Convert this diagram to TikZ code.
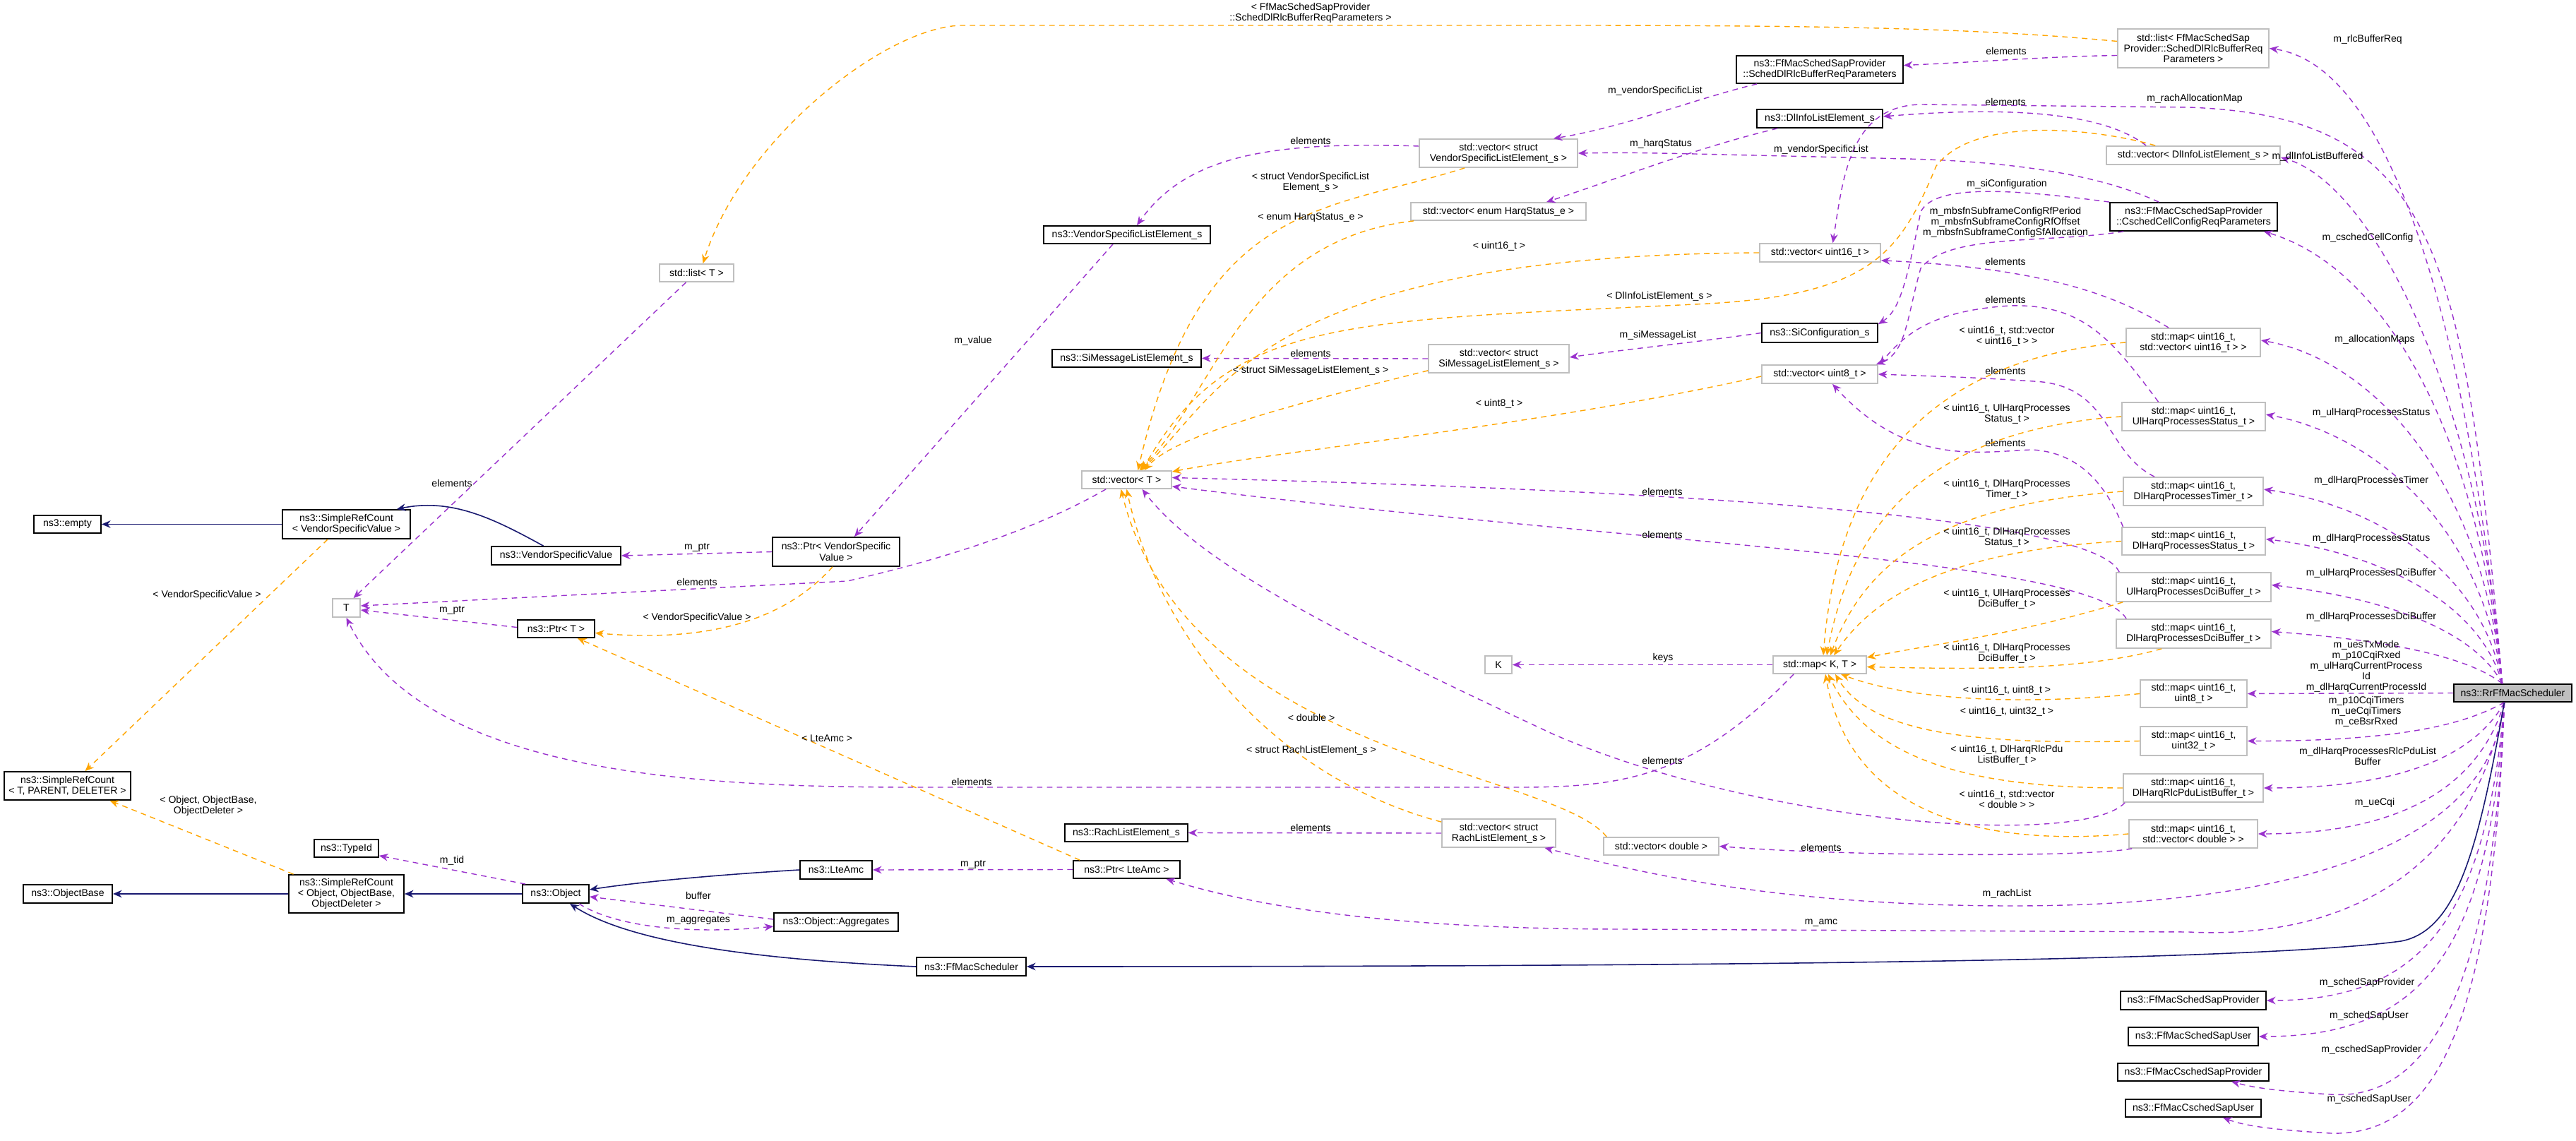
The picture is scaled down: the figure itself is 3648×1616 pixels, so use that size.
\documentclass[tikz,border=0pt]{standalone}
\usepackage{fontspec}
\setmainfont{Liberation Sans}
\usetikzlibrary{arrows.meta,calc}
\definecolor{pur}{RGB}{154,50,205}
\definecolor{org}{RGB}{255,165,0}
\definecolor{nav}{RGB}{25,25,112}
\definecolor{gbord}{RGB}{191,191,191}
\newcommand{\nb}[7]{\node[#1,minimum width={(#5-#3)*0.01cm},minimum height={(#6-#4)*0.01cm}] (#2) at ({(#3+#5)/2},{(#4+#6)/2}) {#7};}
\newcommand{\lb}[4]{\node[lbl] (#1) at (#2,#3) {#4};}
\begin{document}
\begin{tikzpicture}[x=0.01cm,y=-0.01cm,
  every node/.style={font=\fontsize{4}{4.3}\selectfont,inner sep=0pt,align=center},
  bx/.style={draw=black,line width=0.5pt,fill=white},
  gb/.style={draw=gbord,line width=0.5pt,fill=white},
  rb/.style={draw=black,line width=0.5pt,fill=gbord},
  lbl/.style={},
  tip/.style={-{Stealth[length=3.6pt,width=3pt]}},
  pe/.style={tip,draw=pur,line width=0.4pt,dash pattern=on 2.2pt off 1.8pt},
  oe/.style={tip,draw=org,line width=0.4pt,dash pattern=on 2.2pt off 1.8pt},
  ne/.style={tip,draw=nav,line width=0.45pt}]
\useasboundingbox (0,0) rectangle (3648,1616);
% nodes
\nb{bx}{empty}{48}{730}{143}{755}{ns3::empty}
\nb{bx}{srcv}{400}{722}{581}{763}{ns3::SimpleRefCount\\< VendorSpecificValue >}
\nb{gb}{listT}{934}{374}{1039}{399}{std::list< T >}
\nb{bx}{vsv}{696}{774}{879}{800}{ns3::VendorSpecificValue}
\nb{bx}{pvsv}{1094}{761}{1274}{802}{ns3::Ptr< VendorSpecific\\Value >}
\nb{gb}{T}{471}{848}{510}{874}{T}
\nb{bx}{pT}{733}{878}{842}{903}{ns3::Ptr< T >}
\nb{bx}{srct}{6}{1093}{185}{1133}{ns3::SimpleRefCount\\< T, PARENT, DELETER >}
\nb{bx}{tid}{445}{1189}{536}{1214}{ns3::TypeId}
\nb{bx}{ob}{33}{1253}{159}{1279}{ns3::ObjectBase}
\nb{bx}{srco}{409}{1239}{572}{1293}{ns3::SimpleRefCount\\< Object, ObjectBase,\\ObjectDeleter >}
\nb{bx}{obj}{740}{1253}{834}{1279}{ns3::Object}
\nb{bx}{amc}{1133}{1219}{1235}{1245}{ns3::LteAmc}
\nb{bx}{agg}{1096}{1293}{1272}{1319}{ns3::Object::Aggregates}
\nb{gb}{vvs}{2010}{197}{2234}{237}{std::vector< struct\\ VendorSpecificListElement\_s >}
\nb{bx}{vsle}{1478}{320}{1714}{345}{ns3::VendorSpecificListElement\_s}
\nb{gb}{vhs}{1998}{287}{2246}{312}{std::vector< enum HarqStatus\_e >}
\nb{bx}{smle}{1490}{495}{1701}{520}{ns3::SiMessageListElement\_s}
\nb{gb}{vsm}{2023}{488}{2222}{528}{std::vector< struct\\ SiMessageListElement\_s >}
\nb{gb}{vT}{1532}{667}{1659}{692}{std::vector< T >}
\nb{gb}{K}{2103}{929}{2141}{954}{K}
\nb{bx}{rle}{1508}{1167}{1682}{1192}{ns3::RachListElement\_s}
\nb{gb}{vrl}{2042}{1160}{2203}{1200}{std::vector< struct\\ RachListElement\_s >}
\nb{gb}{vd}{2271}{1186}{2434}{1211}{std::vector< double >}
\nb{bx}{pamc}{1520}{1219}{1671}{1244}{ns3::Ptr< LteAmc >}
\nb{bx}{ffs}{1298}{1356}{1453}{1382}{ns3::FfMacScheduler}
\nb{gb}{listP}{2999}{41}{3213}{96}{std::list< FfMacSchedSap\\Provider::SchedDlRlcBufferReq\\Parameters >}
\nb{bx}{schedP}{2459}{79}{2695}{118}{ns3::FfMacSchedSapProvider\\::SchedDlRlcBufferReqParameters}
\nb{bx}{dlinfo}{2488}{155}{2666}{181}{ns3::DlInfoListElement\_s}
\nb{gb}{vdl}{2983}{207}{3229}{233}{std::vector< DlInfoListElement\_s >}
\nb{bx}{csched}{2988}{287}{3225}{327}{ns3::FfMacCschedSapProvider\\::CschedCellConfigReqParameters}
\nb{gb}{vu16}{2492}{345}{2663}{371}{std::vector< uint16\_t >}
\nb{bx}{siconf}{2495}{458}{2659}{485}{ns3::SiConfiguration\_s}
\nb{gb}{vu8}{2495}{517}{2659}{543}{std::vector< uint8\_t >}
\nb{gb}{mvu16}{3011}{465}{3201}{505}{std::map< uint16\_t,\\ std::vector< uint16\_t > >}
\nb{gb}{mus}{3005}{570}{3208}{610}{std::map< uint16\_t,\\ UlHarqProcessesStatus\_t >}
\nb{gb}{mdt}{3007}{676}{3205}{716}{std::map< uint16\_t,\\ DlHarqProcessesTimer\_t >}
\nb{gb}{mds}{3005}{747}{3208}{786}{std::map< uint16\_t,\\ DlHarqProcessesStatus\_t >}
\nb{gb}{mud}{2997}{811}{3216}{852}{std::map< uint16\_t,\\ UlHarqProcessesDciBuffer\_t >}
\nb{gb}{mdd}{2997}{877}{3216}{918}{std::map< uint16\_t,\\ DlHarqProcessesDciBuffer\_t >}
\nb{gb}{mkt}{2511}{929}{2643}{954}{std::map< K, T >}
\nb{gb}{mu8}{3031}{963}{3182}{1002}{std::map< uint16\_t,\\ uint8\_t >}
\nb{gb}{mu32}{3031}{1029}{3182}{1070}{std::map< uint16\_t,\\ uint32\_t >}
\nb{gb}{mrlc}{3007}{1096}{3205}{1136}{std::map< uint16\_t,\\ DlHarqRlcPduListBuffer\_t >}
\nb{gb}{mvd}{3015}{1161}{3197}{1201}{std::map< uint16\_t,\\ std::vector< double > >}
\nb{rb}{R}{3475}{969}{3642}{994}{ns3::RrFfMacScheduler}
\nb{bx}{ssp}{3003}{1404}{3209}{1430}{ns3::FfMacSchedSapProvider}
\nb{bx}{ssu}{3014}{1455}{3198}{1481}{ns3::FfMacSchedSapUser}
\nb{bx}{csp}{2999}{1506}{3213}{1531}{ns3::FfMacCschedSapProvider}
\nb{bx}{csu}{3010}{1557}{3202}{1582}{ns3::FfMacCschedSapUser}
\coordinate (Rn) at ($(R.north)+(-15,0)$);
\coordinate (Rs) at ($(R.south)+(-12,0)$);
% ---- edges from R, upper
\draw[pe] (Rn) .. controls (3500,{68+0.5*(969-68)}) and (3400,95) .. (listP.east);
\draw[pe] (Rn) .. controls (3510,{220+0.45*(969-220)}) and (3360,260) .. ($(vdl.east)+(0,3)$);
\draw[pe] (Rn) .. controls (3510,{330+0.45*(969-330)}) and (3380,380) .. ($(csched.south east)+(-20,0)$);
\draw[pe] (Rn) .. controls (3515,{485+0.4*(969-485)}) and (3360,510) .. ($(mvu16.east)+(0,-3)$);
\draw[pe] (Rn) .. controls (3515,{590+0.4*(969-590)}) and (3360,615) .. ($(mus.east)+(0,-3)$);
\draw[pe] (Rn) .. controls (3515,{696+0.4*(969-696)}) and (3360,715) .. ($(mdt.east)+(0,-3)$);
\draw[pe] (Rn) .. controls (3510,{766+0.4*(969-766)}) and (3360,782) .. ($(mds.east)+(0,-3)$);
\draw[pe] (Rn) .. controls (3500,{831+0.4*(969-831)}) and (3360,845) .. ($(mud.east)+(0,-3)$);
\draw[pe] (Rn) .. controls (3490,{897+0.4*(969-897)}) and (3360,905) .. ($(mdd.east)+(0,-3)$);
\draw[pe] (R.west) -- (mu8.east);
\draw[pe] (Rn) .. controls (3490,350) and (3450,165) .. (3100,152) -- (2720,148) .. controls (2620,150) and (2610,250) .. ($(vu16.north)+(18,0)$);
% lower
\draw[pe] (Rs) .. controls (3500,1020) and (3420,1050) .. (mu32.east);
\draw[pe] (Rs) .. controls (3510,1060) and (3420,1116) .. (mrlc.east);
\draw[pe] (Rs) .. controls (3515,1100) and (3420,1181) .. (mvd.east);
\draw[pe] (Rs) .. controls (3520,1300) and (3430,1417) .. (ssp.east);
\draw[pe] (Rs) .. controls (3525,1350) and (3430,1468) .. (ssu.east);
\draw[pe] (Rs) .. controls (3530,1400) and (3440,1560) .. (3300,1550) .. controls (3220,1545) and (3190,1540) .. ($(csp.south)+(54,0)$);
\draw[pe] (Rs) .. controls (3530,1450) and (3450,1610) .. (3300,1605) .. controls (3220,1600) and (3180,1595) .. ($(csu.south)+(42,0)$);
\draw[pe] (Rs) .. controls (3520,1250) and (3100,1283) .. (2850,1283) .. controls (2500,1283) and (2300,1230) .. ($(vrl.south)+(65,0)$);
\draw[pe] (Rs) .. controls (3500,1250) and (3300,1330) .. (3100,1320) -- (2300,1316) .. controls (2000,1316) and (1800,1290) .. ($(pamc.south)+(56,0)$);
\draw[ne] (Rs) .. controls (3510,1200) and (3480,1318) .. (3400,1333) .. controls (3200,1360) and (2500,1369) .. (ffs.east);
% labels of R edges
\lb{lrlc}{3353}{56}{m\_rlcBufferReq}
\lb{lrach}{3108}{140}{m\_rachAllocationMap}
\lb{ldlb}{3282}{222}{m\_dlInfoListBuffered}
\lb{lccc}{3353}{337}{m\_cschedCellConfig}
\lb{lam}{3363}{481}{m\_allocationMaps}
\lb{lus}{3358}{585}{m\_ulHarqProcessesStatus}
\lb{ldt}{3358}{681}{m\_dlHarqProcessesTimer}
\lb{lds}{3358}{763}{m\_dlHarqProcessesStatus}
\lb{lud}{3358}{812}{m\_ulHarqProcessesDciBuffer}
\lb{ldd}{3358}{874}{m\_dlHarqProcessesDciBuffer}
\lb{lu8}{3351}{944}{m\_uesTxMode\\m\_p10CqiRxed\\m\_ulHarqCurrentProcess\\Id\\m\_dlHarqCurrentProcessId}
\lb{lu32}{3351}{1008}{m\_p10CqiTimers\\m\_ueCqiTimers\\m\_ceBsrRxed}
\lb{lrlcp}{3353}{1071}{m\_dlHarqProcessesRlcPduList\\Buffer}
\lb{lcqi}{3363}{1137}{m\_ueCqi}
\lb{lrl}{2842}{1266}{m\_rachList}
\lb{lamc}{2579}{1307}{m\_amc}
\lb{lssp}{3352}{1392}{m\_schedSapProvider}
\lb{lssu}{3355}{1439}{m\_schedSapUser}
\lb{lcsp}{3358}{1487}{m\_cschedSapProvider}
\lb{lcsu}{3355}{1557}{m\_cschedSapUser}
% ---- upper right cluster
\draw[pe] ($(listP.west)+(0,10)$) .. controls (2900,80) and (2800,88) .. ($(schedP.east)+(0,-6)$);
\lb{le1}{2841}{72}{elements}
\draw[oe] ($(listP.west)+(0,-10)$) .. controls (2800,40) and (2600,36) .. (2200,36) -- (1360,36) .. controls (1250,40) and (1050,200) .. ($(listT.north)+(9,0)$);
\lb{lsdr}{1856}{18}{< FfMacSchedSapProvider\\::SchedDlRlcBufferReqParameters >}
\draw[pe] ($(schedP.south west)+(30,0)$) .. controls (2400,140) and (2300,180) .. ($(vvs.north)+(78,0)$);
\lb{lvsl}{2344}{129}{m\_vendorSpecificList}
\draw[pe] ($(vvs.west)+(0,-10)$) .. controls (1800,200) and (1680,220) .. ($(vsle.north)+(14,0)$);
\lb{le2}{1856}{199}{elements}
\draw[pe] ($(dlinfo.south west)+(30,0)$) .. controls (2400,210) and (2300,250) .. ($(vhs.north)+(68,0)$);
\lb{lhs}{2352}{204}{m\_harqStatus}
\draw[pe] ($(csched.north west)+(70,0)$) .. controls (3000,260) and (2900,230) .. (2700,225) -- (2400,218) .. controls (2300,216) .. (vvs.east);
\lb{lvsl2}{2579}{212}{m\_vendorSpecificList}
\draw[pe] ($(vdl.north west)+(57,0)$) .. controls (2980,160) and (2850,150) .. ($(dlinfo.east)+(0,-3)$);
\lb{le3}{2840}{144}{elements}
\draw[pe] ($(csched.north west)+(0,0)$) .. controls (2850,268) and (2740,260) .. (2720,300) .. controls (2700,400) and (2690,440) .. ($(siconf.north east)+(0,2)$);
\lb{lsic}{2842}{261}{m\_siConfiguration}
\draw[pe] ($(csched.south west)+(20,0)$) .. controls (2900,345) and (2760,330) .. (2720,380) .. controls (2700,450) and (2700,500) .. ($(vu8.north east)+(-3,0)$);
\lb{lmbs}{2840}{315}{m\_mbsfnSubframeConfigRfPeriod\\m\_mbsfnSubframeConfigRfOffset\\m\_mbsfnSubframeConfigSfAllocation}
\draw[pe] (siconf.west) .. controls (2400,485) and (2300,495) .. ($(vsm.east)+(0,-2)$);
\lb{lsml}{2348}{475}{m\_siMessageList}
\draw[pe] ($(vsm.west)+(0,0)$) -- (smle.east);
\lb{le4}{1856}{500}{elements}
% maps -> vectors (elements)
\draw[pe] ($(mvu16.north)+(-35,0)$) .. controls (3000,420) and (2900,380) .. ($(vu16.south east)+(0,-3)$);
\lb{le5}{2840}{370}{elements}
\draw[pe] ($(mus.north)+(-50,0)$) .. controls (2990,480) and (2950,430) .. (2846,433) .. controls (2740,440) and (2700,470) .. ($(vu8.north east)+(2,0)$);
\lb{le6}{2840}{424}{elements}
\draw[pe] ($(mdt.north)+(-55,0)$) .. controls (2980,640) and (2990,545) .. (2880,540) .. controls (2800,535) .. ($(vu8.east)+(0,0)$);
\lb{le7}{2840}{525}{elements}
\draw[pe] ($(mds.north)+(-100,0)$) .. controls (2973,663) and (2925,640) .. (2878,637) .. controls (2800,640) and (2700,660) .. ($(vu8.south)+(18,0)$);
\lb{le8}{2840}{627}{elements}
\draw[pe] ($(mud.north west)+(5,0)$) .. controls (2960,720) and (2200,690) .. ($(vT.east)+(0,-3)$);
\lb{le9}{2354}{696}{elements}
\draw[pe] ($(mdd.north west)+(15,0)$) .. controls (2960,790) and (2300,770) .. ($(vT.south east)+(0,-4)$);
\lb{le10}{2354}{757}{elements}
\draw[pe] ($(mrlc.south west)+(3,0)$) .. controls (2950,1200) and (2500,1170) .. (2200,1040) .. controls (1900,900) and (1700,800) .. ($(vT.south)+(22,0)$);
\lb{le11}{2354}{1077}{elements}
\draw[pe] ($(mvd.south west)+(5,0)$) .. controls (2950,1215) and (2600,1212) .. (vd.east);
\lb{le12}{2579}{1200}{elements}
% orange -> vector<T>
\draw[oe] ($(vvs.south west)+(65,0)$) .. controls (1880,300) and (1700,280) .. ($(vT.north)+(16,0)$);
\lb{lo1}{1856}{258}{< struct VendorSpecificList\\Element\_s >}
\draw[oe] ($(vhs.south west)+(5,0)$) .. controls (1760,340) and (1720,560) .. ($(vT.north)+(18,0)$);
\lb{lo2}{1856}{308}{< enum HarqStatus\_e >}
\draw[oe] (vu16.west) .. controls (1780,362) and (1730,560) .. ($(vT.north)+(20,0)$);
\lb{lo3}{2123}{349}{< uint16\_t >}
\draw[oe] ($(vdl.north west)+(70,0)$) .. controls (2980,185) and (2800,160) .. (2742,235) .. controls (2690,360) and (2650,420) .. (2400,431) .. controls (1900,455) and (1740,450) .. ($(vT.north)+(22,0)$);
\lb{lo4}{2350}{420}{< DlInfoListElement\_s >}
\draw[oe] ($(vsm.south west)+(0,-4)$) .. controls (1800,580) and (1660,620) .. ($(vT.north)+(25,0)$);
\lb{lo5}{1856}{525}{< struct SiMessageListElement\_s >}
\draw[oe] ($(vu8.west)+(0,3)$) .. controls (2200,600) and (1800,640) .. ($(vT.north east)+(0,2)$);
\lb{lo6}{2123}{572}{< uint8\_t >}
\draw[oe] ($(vrl.north west)+(0,5)$) .. controls (1800,1100) and (1640,900) .. ($(vT.south)+(0,0)$);
\lb{lo7}{1857}{1063}{< struct RachListElement\_s >}
\draw[oe] ($(vd.north west)+(5,0)$) .. controls (2200,1090) and (1680,1070) .. ($(vT.south)+(-8,0)$);
\lb{lo8}{1857}{1016}{< double >}
% maps -> map<K,T>
\draw[oe] (mvu16.west) .. controls (2700,510) and (2600,700) .. ($(mkt.north)+(5,0)$);
\lb{lm1}{2842}{476}{< uint16\_t, std::vector\\< uint16\_t > >}
\draw[oe] (mus.west) .. controls (2720,610) and (2620,750) .. ($(mkt.north)+(10,0)$);
\lb{lm2}{2842}{586}{< uint16\_t, UlHarqProcesses\\Status\_t >}
\draw[oe] (mdt.west) .. controls (2740,715) and (2640,800) .. ($(mkt.north)+(15,0)$);
\lb{lm3}{2842}{693}{< uint16\_t, DlHarqProcesses\\Timer\_t >}
\draw[oe] (mds.west) .. controls (2750,780) and (2650,850) .. ($(mkt.north)+(20,0)$);
\lb{lm4}{2842}{761}{< uint16\_t, DlHarqProcesses\\Status\_t >}
\draw[oe] ($(mud.south west)+(10,0)$) .. controls (2850,900) and (2750,910) .. ($(mkt.north east)+(0,3)$);
\lb{lm5}{2842}{848}{< uint16\_t, UlHarqProcesses\\DciBuffer\_t >}
\draw[oe] ($(mdd.south west)+(65,0)$) .. controls (2950,950) and (2800,948) .. ($(mkt.east)+(0,3)$);
\lb{lm6}{2842}{925}{< uint16\_t, DlHarqProcesses\\DciBuffer\_t >}
\draw[oe] (mu8.west) .. controls (2850,1000) and (2700,990) .. ($(mkt.south)+(30,0)$);
\lb{lm7}{2842}{978}{< uint16\_t, uint8\_t >}
\draw[oe] (mu32.west) .. controls (2800,1055) and (2650,1040) .. ($(mkt.south)+(22,0)$);
\lb{lm8}{2842}{1008}{< uint16\_t, uint32\_t >}
\draw[oe] (mrlc.west) .. controls (2800,1116) and (2650,1080) .. ($(mkt.south)+(12,0)$);
\lb{lm9}{2842}{1069}{< uint16\_t, DlHarqRlcPdu\\ListBuffer\_t >}
\draw[oe] (mvd.west) .. controls (2800,1200) and (2620,1150) .. ($(mkt.south)+(8,0)$);
\lb{lm10}{2842}{1132}{< uint16\_t, std::vector\\< double > >}
\draw[pe] (mkt.west) -- (K.east);
\lb{lkeys}{2355}{932}{keys}
\draw[pe] ($(mkt.south west)+(30,0)$) .. controls (2400,1100) and (2300,1115) .. (2150,1115) -- (1300,1115) .. controls (1000,1115) and (600,1100) .. (T.south);
\lb{le13}{1376}{1107}{elements}
% middle/left
\draw[pe] (vrl.west) -- (rle.east);
\lb{le14}{1856}{1172}{elements}
\draw[pe] ($(vT.south west)+(35,0)$) .. controls (1450,760) and (1300,800) .. (1200,823) -- ($(T.east)+(0,-3)$);
\lb{le15}{987}{824}{elements}
\draw[pe] ($(listT.south)+(-15,0)$) -- ($(T.north)+(10,0)$);
\lb{le16}{640}{684}{elements}
\draw[pe] ($(pT.west)+(0,-2)$) -- ($(T.east)+(0,3)$);
\lb{lmp1}{640}{864}{m\_ptr}
\draw[pe] (pvsv.west) -- (vsv.east);
\lb{lmp2}{987}{775}{m\_ptr}
\draw[ne] ($(vsv.north)+(-18,0)$) .. controls (700,735) and (640,705) .. ($(srcv.north east)+(-20,0)$);
\draw[ne] (srcv.west) -- (empty.east);
\draw[oe] ($(srcv.south west)+(65,0)$) -- ($(srct.north)+(25,0)$);
\lb{lo9}{293}{843}{< VendorSpecificValue >}
\draw[pe] ($(vsle.south)+(-20,0)$) -- ($(pvsv.north east)+(-65,0)$);
\lb{lmv}{1378}{483}{m\_value}
\draw[oe] ($(pvsv.south)+(-5,0)$) .. controls (1110,880) and (1000,910) .. ($(pT.east)+(0,6)$);
\lb{lo10}{987}{875}{< VendorSpecificValue >}
\draw[oe] ($(pamc.north west)+(10,0)$) -- ($(pT.south east)+(-25,0)$);
\lb{lo11}{1171}{1046}{< LteAmc >}
\draw[pe] (pamc.west) -- (amc.east);
\lb{lmp3}{1378}{1224}{m\_ptr}
\draw[ne] (amc.west) .. controls (1000,1240) and (900,1250) .. ($(obj.east)+(0,-6)$);
\draw[pe] ($(obj.north west)+(5,0)$) -- ($(tid.south east)+(0,-3)$);
\lb{ltid}{640}{1219}{m\_tid}
\draw[ne] (obj.west) -- (srco.east);
\draw[ne] (srco.west) -- (ob.east);
\draw[oe] ($(srco.north)+(-75,0)$) -- ($(srct.south)+(60,0)$);
\lb{lo12}{295}{1141}{< Object, ObjectBase,\\ObjectDeleter >}
\draw[pe] ($(agg.west)+(0,-4)$) -- ($(obj.east)+(0,4)$);
\lb{lbuf}{989}{1268}{buffer}
\draw[pe] ($(obj.south east)+(-15,0)$) .. controls (880,1318) and (1000,1322) .. ($(agg.west)+(0,6)$);
\lb{lagg}{989}{1303}{m\_aggregates}
\draw[ne] (ffs.west) .. controls (1100,1360) and (900,1340) .. ($(obj.south)+(20,0)$);
\end{tikzpicture}
\end{document}
